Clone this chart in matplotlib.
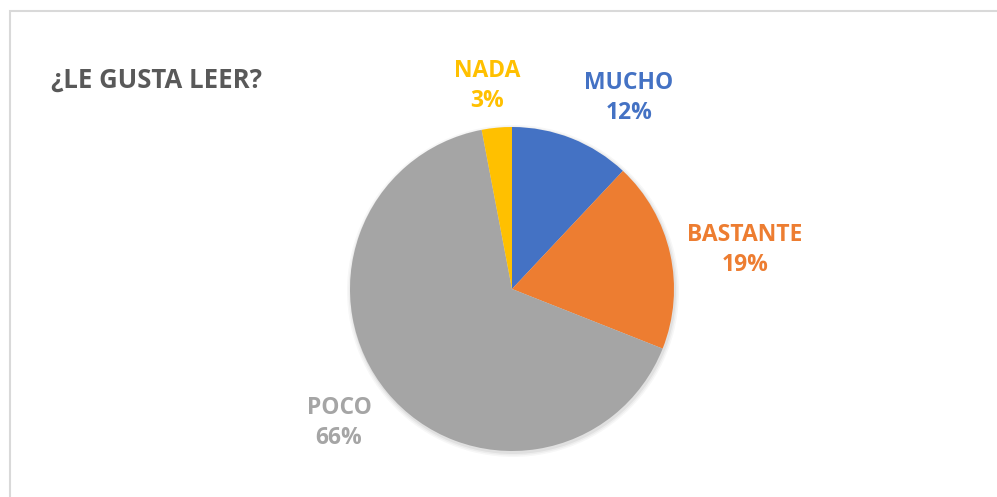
import matplotlib.pyplot as plt
from matplotlib.patches import Rectangle

# datos
categorias = ['MUCHO', 'BASTANTE', 'POCO', 'NADA']
porcentajes = [12, 19, 66, 3]
colores = ['#4472C4', '#ED7D31', '#A5A5A5', '#FFC000']
titulo = '¿LE GUSTA LEER?'

# posiciones de las etiquetas (pixeles, origen arriba-izquierda)
pos_etiquetas = [(629, 98), (745, 250), (339, 423), (487, 86)]

W, H = 997, 497
fig = plt.figure(figsize=(W / 100, H / 100), dpi=100)
ax = fig.add_axes([0, 0, 1, 1])

# marco del grafico
ax.add_patch(Rectangle((9.5, -5), W + 10, H - 11 + 5, fill=False,
                       edgecolor='#D9D9D9', linewidth=1.5))

cx, cy, r = 512, H - 289, 162

# sombra suave
for i, a in enumerate([0.05, 0.04, 0.03]):
    ax.pie([1], colors=['black'], radius=r + 1 + i * 1.5, center=(cx + 1, cy - 2),
           wedgeprops=dict(alpha=a, linewidth=0), frame=True)

ax.pie(porcentajes, colors=colores, startangle=90, counterclock=False,
       radius=r, center=(cx, cy), wedgeprops=dict(linewidth=0), frame=True)
ax.set_xlim(0, W)
ax.set_ylim(0, H)
ax.set_aspect('equal')
ax.axis('off')

fuente = 'Open Sans'
for cat, p, col, (x, y) in zip(categorias, porcentajes, colores, pos_etiquetas):
    ax.text(x, H - y, f'{cat}\n{p}%', color=col, fontsize=16.5, fontweight='bold',
            family=fuente, ha='center', va='center', linespacing=1.38)

ax.text(51, H - 80, titulo, color='#595959', fontsize=18.5, fontweight='bold',
        family=fuente, ha='left', va='center')

fig.savefig('out.png', dpi=100)
